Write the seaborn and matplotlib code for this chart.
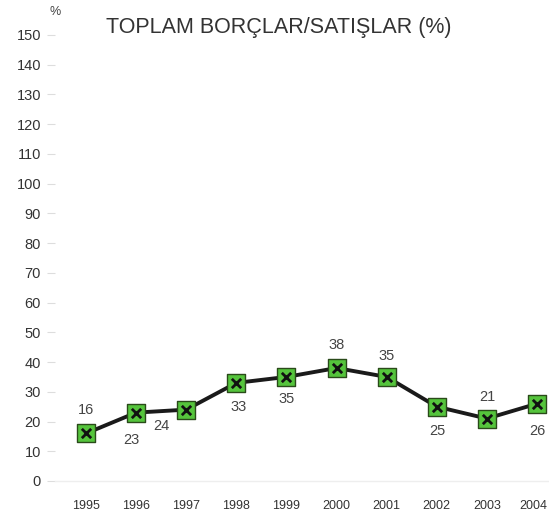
import matplotlib
matplotlib.use("Agg")
import matplotlib.pyplot as plt
import matplotlib.transforms as mtransforms
import seaborn as sns
import pandas as pd

years = [1995, 1996, 1997, 1998, 1999, 2000, 2001, 2002, 2003, 2004]
values = [16, 23, 24, 33, 35, 38, 35, 25, 21, 26]
label_texts = ["16", "23", "24", "33", "35", "38", "35", "25", "21", "26"]
title = "TOPLAM BORÇLAR/SATIŞLAR (%)"
y_ticks = list(range(0, 151, 10))

# label offsets in pixels (dx, dy)
offsets = [(0, 23), (-5, -27), (-25, -16), (2, -24), (0, -22),
           (0, 23), (0, 21), (1, -24), (0, 22), (0, -27)]

sns.set_style("white")
plt.rcParams['font.family'] = ['Liberation Sans', 'DejaVu Sans']

df = pd.DataFrame({"year": years, "value": values})

fig = plt.figure(figsize=(5.49, 5.16), dpi=100)
ax = fig.add_axes([55 / 549, (516 - 481) / 516, (549 - 55) / 549, (481 - 35) / 516])

sns.lineplot(data=df, x="year", y="value", ax=ax, color="#1a1a1a", linewidth=2.8, zorder=2)
ax.scatter(df["year"], df["value"], marker="s", s=150, color="#55c43c",
           edgecolors="#2a4a1a", linewidths=1, zorder=3, clip_on=False)
ax.scatter(df["year"], df["value"], marker="x", s=45, color="#111111",
           linewidths=2, zorder=4, clip_on=False)

for yr, v, t, (dx, dy) in zip(years, values, label_texts, offsets):
    ax.annotate(t, (yr, v), xytext=(dx, dy), textcoords="offset pixels",
                ha="center", va="center", fontsize=10.5, color="#444444")

ax.set_xlim(1995 - 31 / 50.1, 2004 + 12 / 50.1)
ax.set_ylim(0, 150)
ax.set_yticks(y_ticks)
ax.set_xticks(years)
ax.set_xticklabels([str(y) for y in years])
ax.tick_params(axis="y", length=6, color="#dddddd", labelsize=10.5,
               labelcolor="#333333", pad=4, left=True)
ax.tick_params(axis="x", length=0, labelsize=9, labelcolor="#333333", pad=14)
for s in ["top", "right", "left"]:
    ax.spines[s].set_visible(False)
ax.spines["bottom"].set_color("#eeeeee")
ax.spines["bottom"].set_linewidth(1)
ax.set_xlabel("")
ax.set_ylabel("")

# nudge the last year label so it stays inside the figure
last = ax.get_xticklabels()[-1]
last.set_transform(last.get_transform() + mtransforms.ScaledTranslation(-4 / 100, 0, fig.dpi_scale_trans))

fig.text(55 / 549, 1 - 12 / 516, "%", fontsize=9, color="#444444", ha="center", va="center")
fig.text(279 / 549, 1 - 28 / 516, title, fontsize=15.5, color="#333333", ha="center", va="center")

fig.savefig("out.png", dpi=100, facecolor="white")
